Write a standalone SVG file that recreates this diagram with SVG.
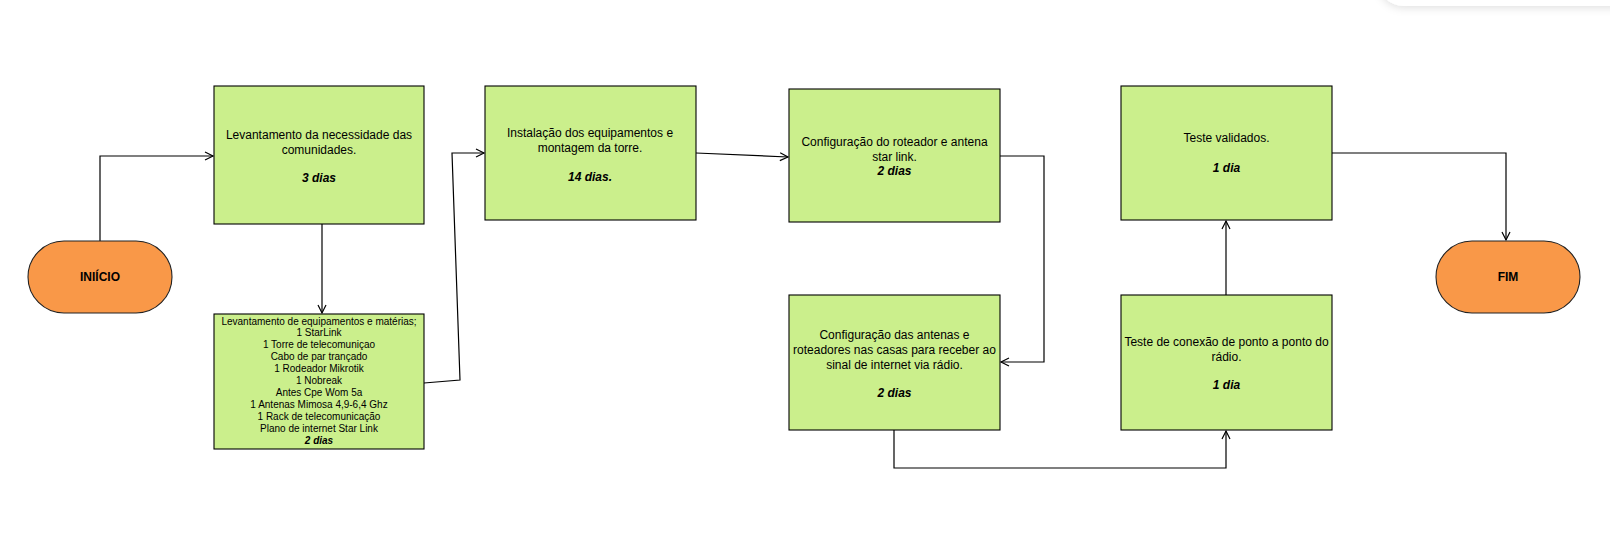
<svg xmlns="http://www.w3.org/2000/svg" width="1610" height="533" viewBox="0 0 1610 533">
<style>
.node{fill:#cbef8c;stroke:#000;stroke-width:1.1}
.term{fill:#f99848;stroke:#222;stroke-width:1.1}
.t{font-family:"Liberation Sans",Arial,sans-serif;font-size:12px;fill:#000;text-anchor:middle}
.s{font-size:10px}
.b{font-weight:bold}
.bi{font-weight:bold;font-style:italic}
.c{fill:none;stroke:#000;stroke-width:1.2}
</style>
<defs>
<marker id="arr" markerUnits="userSpaceOnUse" markerWidth="12" markerHeight="12" refX="9" refY="5" orient="auto">
<path d="M1,1 L9,5 L1,9" fill="none" stroke="#000" stroke-width="1.2"/>
</marker>
<filter id="sh" x="-20%" y="-50%" width="140%" height="200%">
<feDropShadow dx="0" dy="2" stdDeviation="4" flood-color="#000" flood-opacity="0.12"/>
</filter>
</defs>
<rect width="1610" height="533" fill="#fff"/>
<rect x="1378" y="-60" width="280" height="66" rx="26" fill="#fff" filter="url(#sh)"/>

<g id="connectors">
<path class="c" d="M100,241 V156 H213" marker-end="url(#arr)"/>
<path class="c" d="M322,224 V313" marker-end="url(#arr)"/>
<path class="c" d="M424,383 L460,380 L452,153 H484" marker-end="url(#arr)"/>
<path class="c" d="M696,153 L788,157" marker-end="url(#arr)"/>
<path class="c" d="M1000,156 H1044 V362 H1001" marker-end="url(#arr)"/>
<path class="c" d="M894,430 V468 H1226 V431" marker-end="url(#arr)"/>
<path class="c" d="M1226,295 V221" marker-end="url(#arr)"/>
<path class="c" d="M1332,153 H1506 V240" marker-end="url(#arr)"/>
</g>

<g id="inicio">
<rect class="term" x="28" y="241" width="144" height="72" rx="36"/>
<text class="t b" x="100" y="281">INIÍCIO</text>
</g>

<g id="n1">
<rect class="node" x="214" y="86" width="210" height="138"/>
<text class="t" x="319" y="139">Levantamento da necessidade das</text>
<text class="t" x="319" y="154">comunidades.</text>
<text class="t bi" x="319" y="182">3 dias</text>
</g>

<g id="n1b">
<rect class="node" x="214" y="314" width="210" height="135"/>
<text class="t s" x="319" y="324.5">Levantamento de equipamentos e matérias;</text>
<text class="t s" x="319" y="336.4">1 StarLink</text>
<text class="t s" x="319" y="348.3">1 Torre de telecomuniçao</text>
<text class="t s" x="319" y="360.2">Cabo de par trançado</text>
<text class="t s" x="319" y="372.1">1 Rodeador Mikrotik</text>
<text class="t s" x="319" y="384">1 Nobreak</text>
<text class="t s" x="319" y="395.9">Antes Cpe Wom 5a</text>
<text class="t s" x="319" y="407.8">1 Antenas Mimosa 4,9-6,4 Ghz</text>
<text class="t s" x="319" y="419.7">1 Rack de telecomunicação</text>
<text class="t s" x="319" y="431.6">Plano de internet Star Link</text>
<text class="t s bi" x="319" y="443.5">2 dias</text>
</g>

<g id="n2">
<rect class="node" x="485" y="86" width="211" height="134"/>
<text class="t" x="590" y="137">Instalação dos equipamentos e</text>
<text class="t" x="590" y="152">montagem da torre.</text>
<text class="t bi" x="590" y="181">14 dias.</text>
</g>

<g id="n3">
<rect class="node" x="789" y="89" width="211" height="133"/>
<text class="t" x="894.5" y="146">Configuração do roteador e antena</text>
<text class="t" x="894.5" y="161">star link.</text>
<text class="t bi" x="894.5" y="175">2 dias</text>
</g>

<g id="n4">
<rect class="node" x="789" y="295" width="211" height="135"/>
<text class="t" x="894.5" y="339">Configuração das antenas e</text>
<text class="t" x="894.5" y="354">roteadores nas casas para receber ao</text>
<text class="t" x="894.5" y="369">sinal de internet via rádio.</text>
<text class="t bi" x="894.5" y="397">2 dias</text>
</g>

<g id="n5">
<rect class="node" x="1121" y="295" width="211" height="135"/>
<text class="t" x="1226.5" y="346">Teste de conexão de ponto a ponto do</text>
<text class="t" x="1226.5" y="361">rádio.</text>
<text class="t bi" x="1226.5" y="389">1 dia</text>
</g>

<g id="n6">
<rect class="node" x="1121" y="86" width="211" height="134"/>
<text class="t" x="1226.5" y="142">Teste validados.</text>
<text class="t bi" x="1226.5" y="172">1 dia</text>
</g>

<g id="fim">
<rect class="term" x="1436" y="241" width="144" height="72" rx="36"/>
<text class="t b" x="1508" y="281">FIM</text>
</g>
</svg>
